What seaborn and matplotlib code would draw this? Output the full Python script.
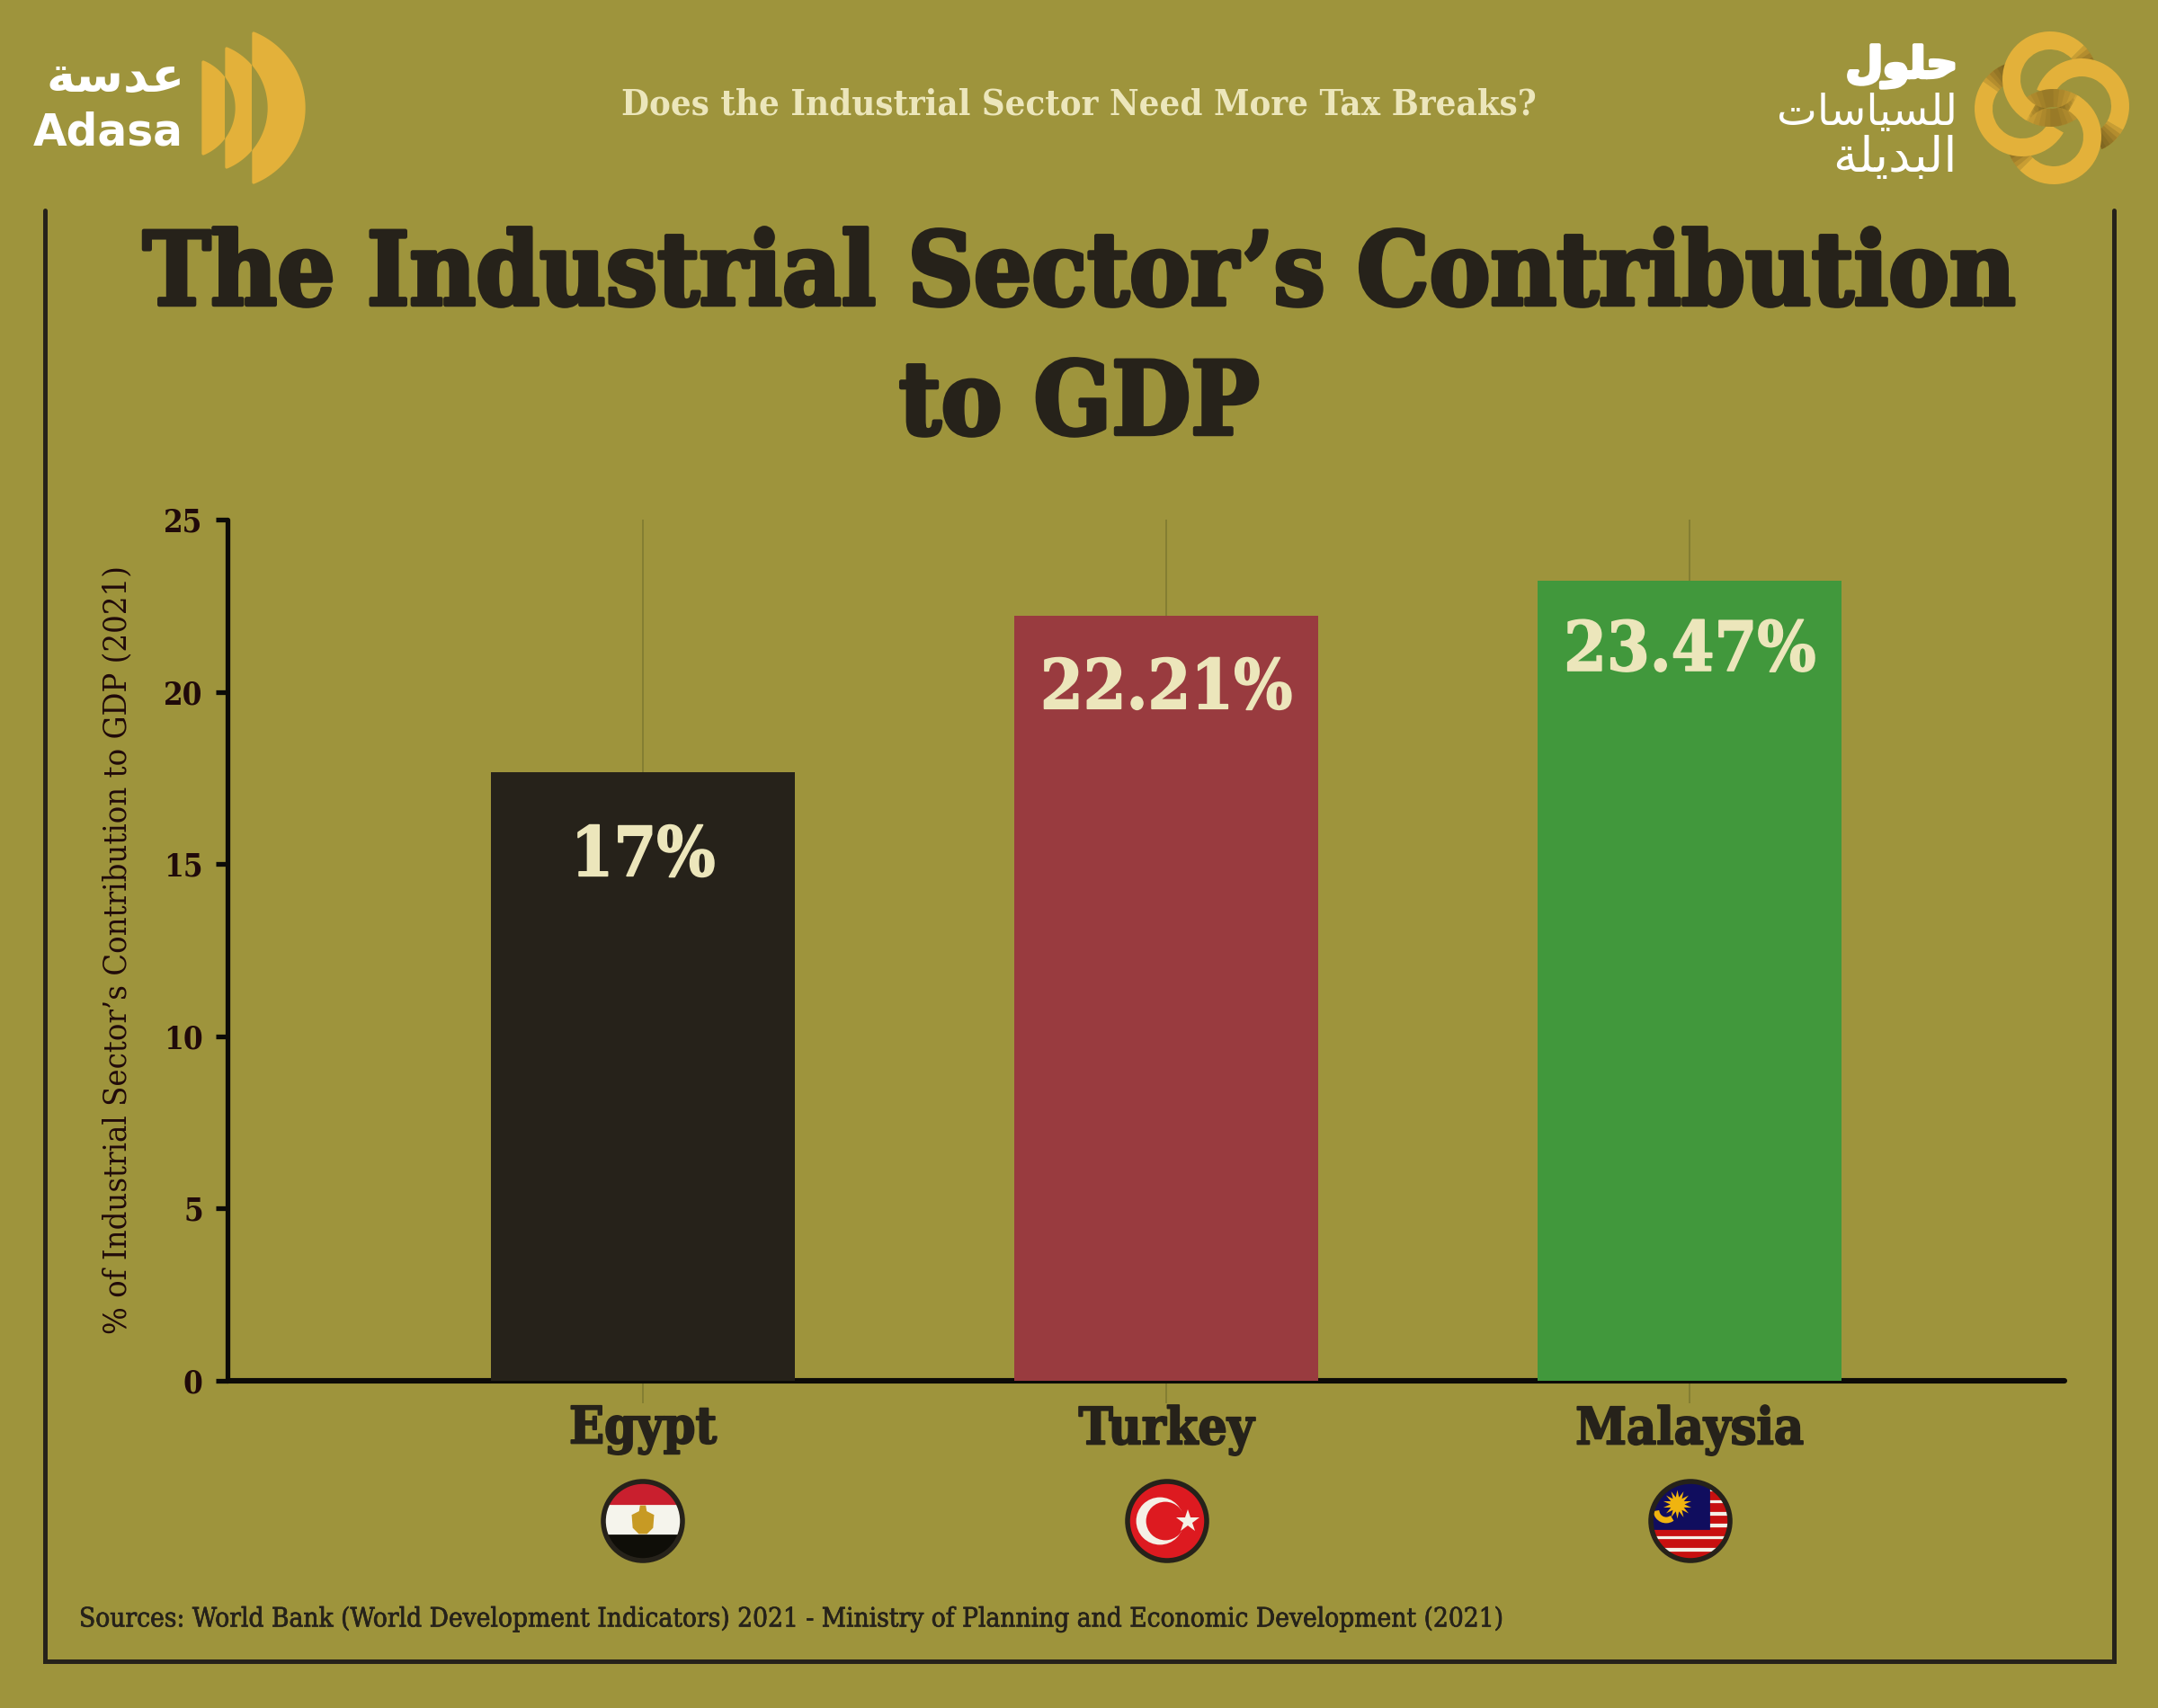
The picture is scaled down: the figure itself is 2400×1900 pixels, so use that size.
import matplotlib
matplotlib.use('Agg')
import matplotlib.pyplot as plt
import matplotlib.patheffects as pe
import seaborn as sns
import numpy as np
import pandas as pd
from matplotlib.patches import Circle, Wedge, Rectangle, Polygon

countries = ['Egypt', 'Turkey', 'Malaysia']
# bar heights as drawn in the picture, labels as printed on the bars
bar_values = [17.67, 22.2, 23.23]
bar_labels = ['17%', '22.21%', '23.47%']
bar_colors = ['#26221a', '#993b3f', '#41983c']
label_offsets = [-34, -29.5, -28.5]
y_ticks = [0, 5, 10, 15, 20, 25]

BG = '#9e943c'
DARK = '#26221a'
CREAM = '#ece6bb'
GOLD = '#e3b13a'
SHADE = '#5f4f1a'
WIDTH, HEIGHT = 2400, 1900

sns.set_theme(style='white')
plt.rcParams['font.family'] = ['DejaVu Serif', 'DejaVu Sans']
plt.rcParams['axes.facecolor'] = 'none'

fig = plt.figure(figsize=(12, 9.5), dpi=200, facecolor=BG)

# overlay in pixel coordinates for frame, logos and flags
deco = fig.add_axes([0, 0, 1, 1], zorder=0)
deco.set_xlim(0, WIDTH)
deco.set_ylim(HEIGHT, 0)
deco.axis('off')

# chart axes: x 253..2296, y 578..1536 in pixels
ax = fig.add_axes([253 / WIDTH, 1 - 1536 / HEIGHT, (2296 - 253) / WIDTH, (1536 - 578) / HEIGHT], zorder=2)
df = pd.DataFrame({'country': countries, 'value': bar_values})
sns.barplot(data=df, x='country', y='value', hue='country', palette=bar_colors,
            width=0.58, legend=False, dodge=False, saturation=1, linewidth=0, ax=ax, zorder=3)
ax.set_xlim(-0.794, 2.716)
ax.set_ylim(0, 25)
ax.set_yticks(y_ticks)
ax.grid(axis='x', color='#7f7a30', linewidth=0.6)
ax.set_axisbelow(True)
sns.despine(ax=ax)
for side in ['left', 'bottom']:
    ax.spines[side].set_color('#0c0b08')
    ax.spines[side].set_capstyle('round')
ax.spines['left'].set_linewidth(1.9)
ax.spines['bottom'].set_linewidth(2.2)

ax.tick_params(axis='y', length=4.8, width=1.9, color='#0c0b08', pad=5, left=True)
for lab in ax.get_yticklabels():
    lab.set_fontsize(12.5)
    lab.set_fontweight('bold')
    lab.set_color('#200a0a')
    lab.set_stretch('condensed')

heavy = [pe.withStroke(linewidth=0.7, foreground=DARK)]
ax.tick_params(axis='x', length=9, width=0.6, color='#7f7a30', pad=0.5, bottom=True)
ax.set_xticks(range(3))
ax.set_xticklabels(countries, fontsize=20.5, fontweight='bold', color=DARK, stretch='condensed',
                   path_effects=heavy)
ax.set_xlabel('')
ax.set_ylabel('% of Industrial Sector’s Contribution to GDP (2021)', fontsize=13,
              color='#200a0a', stretch='condensed', labelpad=0)
ax.yaxis.set_label_coords((147 - 253) / (2296 - 253), 0.5)

for bar, label, off in zip(ax.patches, bar_labels, label_offsets):
    ax.annotate(label, (bar.get_x() + bar.get_width() / 2, bar.get_height()),
                xytext=(0, off), textcoords='offset points', ha='center', va='center',
                fontsize=27.5, fontweight='bold', color=CREAM, stretch='condensed', zorder=5,
                path_effects=[pe.withStroke(linewidth=0.6, foreground=CREAM)])

# title block
title_fx = [pe.withStroke(linewidth=1.6, foreground=DARK)]
deco.text(1200, 339, 'The Industrial Sector’s Contribution', ha='center', va='baseline',
          fontsize=40.6, fontweight='bold', color=DARK, stretch='condensed', path_effects=title_fx)
deco.text(1200, 483, 'to GDP', ha='center', va='baseline',
          fontsize=40.6, fontweight='bold', color=DARK, stretch='condensed', path_effects=title_fx)
deco.text(1200, 116, 'Does the Industrial Sector Need More Tax Breaks?', ha='center', va='center',
          fontsize=14.3, fontweight='bold', color=CREAM, stretch='condensed')
deco.text(88, 1801, 'Sources: World Bank (World Development Indicators) 2021 - Ministry of Planning and Economic Development (2021)',
          ha='left', va='center', fontsize=10.65, color=DARK, stretch='condensed',
          path_effects=[pe.withStroke(linewidth=0.25, foreground=DARK)])

# frame, open at the top
deco.plot([50, 50, 2351, 2351], [234, 1848, 1848, 234], color=DARK, linewidth=1.8,
          solid_capstyle='round', solid_joinstyle='miter')


# Adasa logo: circle segments cut by a vertical chord
def segment(x0, half_h, x_max, color, zorder):
    sag = x_max - x0
    r = (half_h ** 2 + sag ** 2) / (2 * sag)
    cx = x_max - r
    a = np.arcsin(half_h / r)
    t = np.linspace(-a, a, 60)
    pts = np.column_stack([cx + r * np.cos(t), 120 + r * np.sin(t)])
    return Polygon(pts, closed=True, facecolor=color, edgecolor=color, linewidth=1.2,
                   joinstyle='round', zorder=zorder)


def clip_left(patch, x_stop):
    patch.set_clip_path(Rectangle((0, 0), x_stop, 400, transform=deco.transData))


deco.add_patch(segment(282, 83, 338, GOLD, 1))
deco.add_patch(segment(252, 66, 296, BG, 2))
p = segment(252, 66, 296, GOLD, 3)
deco.add_patch(p)
clip_left(p, 280)
deco.add_patch(segment(226, 51, 260, BG, 4))
p = segment(226, 51, 260, GOLD, 5)
deco.add_patch(p)
clip_left(p, 250)

# Arabic is typed as presentation forms in visual order, matplotlib does not shape it
adasa_ar = '\ufe94\ufeb3\ufeaa\ufecb'
hulul_1 = '\ufedd\ufeee\ufee0\ufea3'
hulul_2 = '\ufe95\ufe8e\ufeb3\ufe8e\ufef4\ufeb4\ufee0\ufedf'
hulul_3 = '\ufe94\ufee0\ufef3\ufeaa\ufe92\ufedf\ufe8d'

deco.text(206, 87, adasa_ar, ha='right', va='center', fontsize=19.5, fontweight='bold',
          color='white', family='DejaVu Sans')
deco.text(204, 148, 'Adasa', ha='right', va='center', fontsize=17.5, fontweight='bold',
          color='white', family='DejaVu Sans')
deco.text(2177, 74, hulul_1, ha='right', va='center', fontsize=17, fontweight='bold',
          color='white', family='DejaVu Sans',
          path_effects=[pe.withStroke(linewidth=1.5, foreground='white')])
deco.text(2177, 125, hulul_2, ha='right', va='center', fontsize=17.2, color='white', family='DejaVu Sans')
deco.text(2177, 176, hulul_3, ha='right', va='center', fontsize=19.5, color='white', family='DejaVu Sans')


# Hulul rings: a pinwheel of four arcs, each one dips under the next with a shaded end
def arc(center, t1, t2, color=GOLD, alpha=None, zorder=1.0):
    deco.add_patch(Wedge(center, 53, t1, t2, width=20, facecolor=color, alpha=alpha,
                         edgecolor='none', zorder=zorder))


def shaded_end(center, t1, t2, zorder=1.0):
    arc(center, t1, t2, zorder=zorder)
    for k in range(6):
        arc(center, t1 + (t2 - t1) * k / 6, t2, color=SHADE, alpha=0.2, zorder=zorder + 0.01)


def shaded_band(center, t1, t2, zorder=1.5):
    arc(center, t1, t2, zorder=zorder)
    mid = (t1 + t2) / 2
    half = (t2 - t1) / 2
    for k in range(6):
        arc(center, mid - half * (1 - k / 6), mid + half * (1 - k / 6), color=SHADE, alpha=0.12,
            zorder=zorder + 0.01)


ring_left = (2249, 121)
ring_right = (2315, 118)
ring_top = (2280, 88)
ring_bottom = (2284, 152)

shaded_end(ring_left, 215, 250)
shaded_end(ring_right, 30, 65)
shaded_end(ring_top, 315, 350)
shaded_end(ring_bottom, 135, 170)
shaded_band(ring_top, 40, 125)
shaded_band(ring_bottom, 220, 305)
arc(ring_left, 30, 215, zorder=1.2)
arc(ring_right, 200, 390, zorder=1.2)
arc(ring_top, 120, 315, zorder=2)
arc(ring_bottom, 300, 495, zorder=2)


# flags, clipped to a circle with a dark ring
def flag_clip(cx, cy):
    return Circle((cx, cy), 43, transform=deco.transData)


def ring(cx, cy):
    deco.add_patch(Circle((cx, cy), 44, facecolor='none', edgecolor=DARK, linewidth=2.0, zorder=7))


fy = 1692
# Egypt
cx = 715
clip = flag_clip(cx, fy)
for y0, h, c in [(fy - 46, 29, '#c91f2e'), (fy - 17, 33, '#f5f4ec'), (fy + 16, 30, '#0f0e08')]:
    deco.add_patch(Rectangle((cx - 46, y0), 92, h, color=c, clip_path=clip, zorder=4))
deco.add_patch(Polygon([(cx - 2, fy - 16), (cx + 2, fy - 16), (cx + 3, fy - 10), (cx + 11, fy - 6),
                        (cx + 10, fy + 7), (cx + 4, fy + 13), (cx - 4, fy + 13), (cx - 10, fy + 7),
                        (cx - 11, fy - 6), (cx - 3, fy - 10)],
                       color='#c79a24', zorder=5))
ring(cx, fy)

# Turkey
cx = 1298
clip = flag_clip(cx, fy)
deco.add_patch(Rectangle((cx - 46, fy - 46), 92, 92, color='#dd1a20', clip_path=clip, zorder=4))
deco.add_patch(Circle((cx - 8, fy), 25, color='#f5f0e6', zorder=5))
deco.add_patch(Circle((cx - 2, fy), 20, color='#dd1a20', zorder=5))
deco.plot([cx + 23], [fy], marker='*', markersize=9.5, color='#f5f0e6', markeredgewidth=0, zorder=5)
ring(cx, fy)

# Malaysia
cx = 1880
clip = flag_clip(cx, fy)
deco.add_patch(Rectangle((cx - 46, fy - 46), 92, 92, color='#f5f0e6', clip_path=clip, zorder=4))
for i in range(-1, 6):
    deco.add_patch(Rectangle((cx - 46, fy - 32 + i * 13.33), 92, 6.67, color='#c8100f', clip_path=clip, zorder=4))
deco.add_patch(Rectangle((cx - 46, fy - 46), 66, 54, color='#100d5e', clip_path=clip, zorder=5))
deco.plot([cx - 15], [fy - 19], marker=(14, 1, 0), markersize=11.5, color='#f0b40f', markeredgewidth=0, zorder=6)
deco.add_patch(Wedge((cx - 27, fy - 12), 13, 60, 170, width=4, color='#f0b40f', zorder=6))
ring(cx, fy)

plt.savefig('out.png', dpi=200, facecolor=BG)
